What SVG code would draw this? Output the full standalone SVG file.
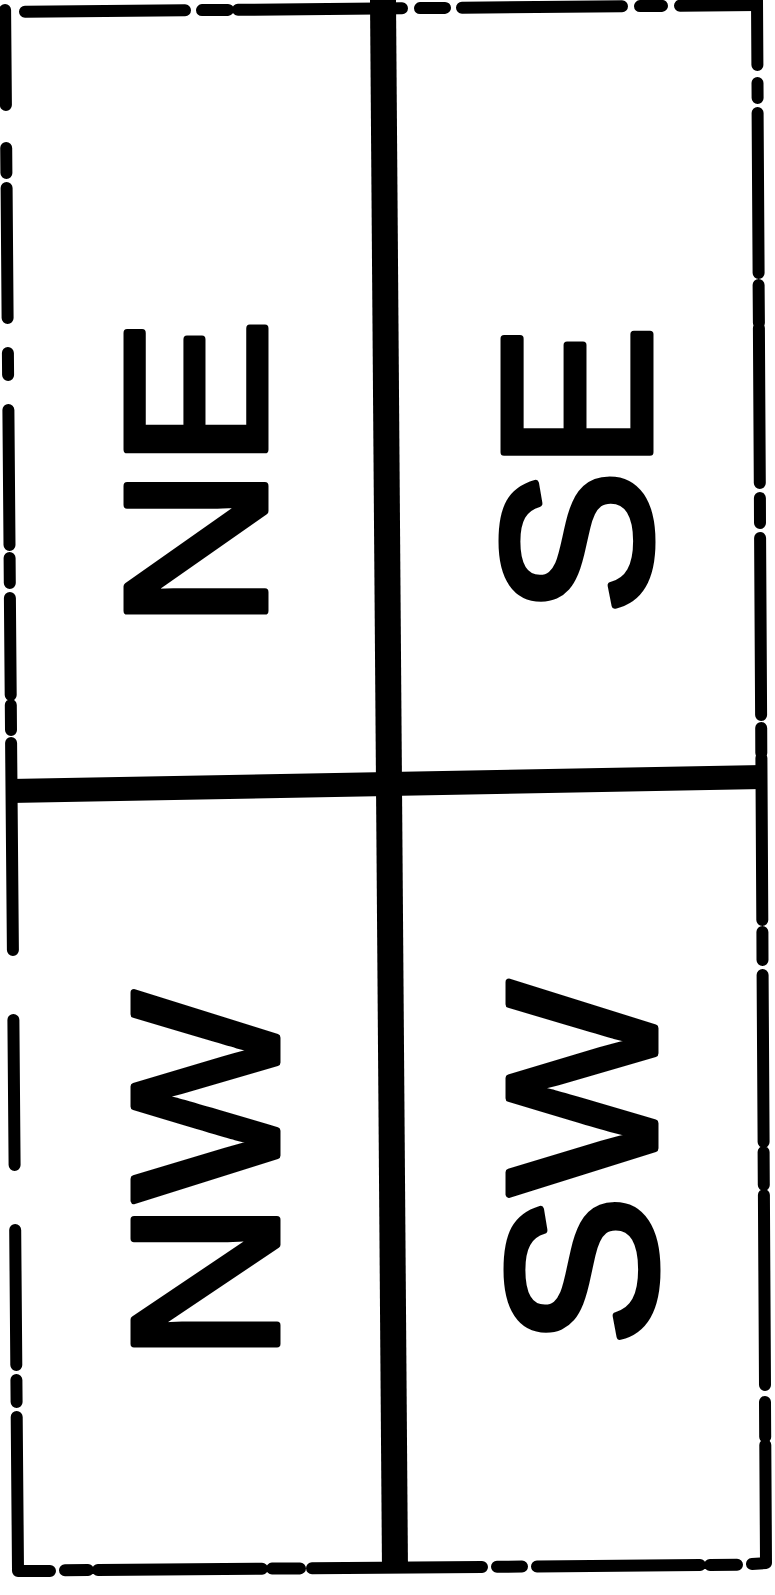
<svg xmlns="http://www.w3.org/2000/svg" width="775" height="1595" viewBox="0 0 775 1595">
  <style>
    .frame { stroke: #000; stroke-width: 12; stroke-linecap: round; stroke-linejoin: round; fill: none; }
    .divider { stroke: #000; stroke-linecap: butt; fill: none; }
    .lbl { font-family: "Liberation Sans", Arial, sans-serif; fill: #000; stroke: #000; stroke-width: 7; stroke-linejoin: round; text-anchor: middle; }
  </style>
  <rect x="0" y="0" width="775" height="1595" fill="#fff"/>
  <g id="frame" class="frame">
    <path d="M5.1,10 L5.9,105 M6.2,148 L6.4,173 M6.6,188 L7.6,318 M7.9,353 L8.1,375 M8.4,410 L9.5,545 M9.6,558 L9.8,583 M9.9,598 L10.7,695 M10.8,705 L11,730 M11.1,743 L12.9,950 M13.4,1020 L14.6,1165 M15.2,1230 L16.3,1365 M16.4,1380 L16.6,1402 M16.7,1417 L18,1571 L50,1571"/>
    <path d="M757,0 L757.4,65 M757.5,83 L757.6,98 M757.6,113 L758.6,273 M758.6,285 L758.9,323 M758.9,328 L759.8,483 M759.9,498 L760,523 M760.1,538 L761.1,715 M761.2,728 L761.3,753 M761.4,758 L762.3,920 M762.4,932 L762.5,960 M762.6,975 L763.6,1142 M763.6,1152 L763.8,1185 M763.9,1195 L765,1385 M765,1402 L765.2,1437 M765.3,1445 L766,1563 L752,1564"/>
    <path d="M25,11.8 L185,10.3 M202,10.1 L228,9.9 M238,9.8 L402,8.3 M420,8.1 L445,7.9 M462,7.7 L622,6.3 M640,6.1 L662,5.9 M680,5.7 L757,5"/>
    <path d="M65,1570.3 L88,1570.1 M98,1570 L262,1568.7 M272,1568.6 L300,1568.4 M312,1568.3 L482,1567 M497,1566.8 L522,1566.6 M537,1566.4 L700,1565.1 M710,1565 L737,1564.8"/>
  </g>
  <g id="dividers">
    <line class="divider" x1="383" y1="0" x2="395" y2="1572" stroke-width="26"/>
    <line class="divider" x1="10" y1="791" x2="763" y2="777" stroke-width="24"/>
  </g>
  <g id="NE">
    <text class="lbl" font-size="200" textLength="310" lengthAdjust="spacingAndGlyphs" transform="translate(265,474) rotate(-90)">NE</text>
  </g>
  <g id="SE">
    <text class="lbl" font-size="212" textLength="290" lengthAdjust="spacingAndGlyphs" transform="translate(650,470) rotate(-90)">SE</text>
  </g>
  <g id="NW">
    <text class="lbl" font-size="208" textLength="370" lengthAdjust="spacingAndGlyphs" transform="translate(277,1177) rotate(-90)">NW</text>
  </g>
  <g id="SW">
    <text class="lbl" font-size="212" textLength="365" lengthAdjust="spacingAndGlyphs" transform="translate(655,1164) rotate(-90)">SW</text>
  </g>
</svg>
